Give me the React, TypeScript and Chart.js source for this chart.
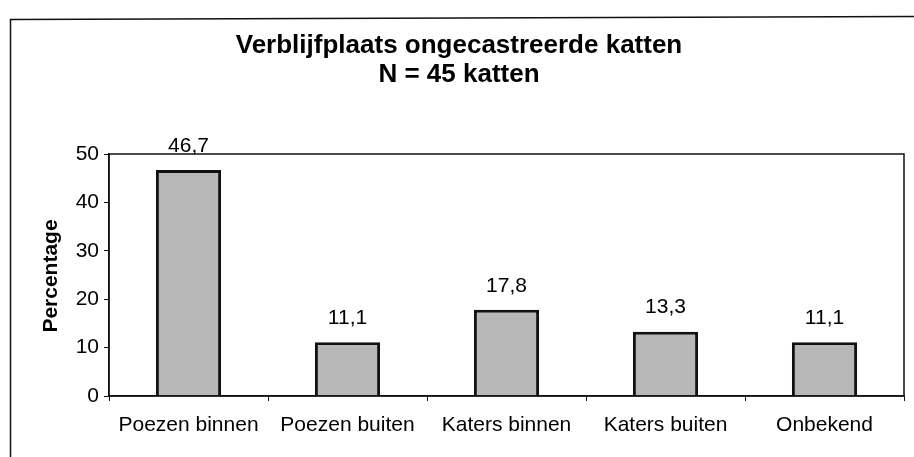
import React, { useEffect, useRef } from "react";
import { Chart, registerables } from "chart.js";

Chart.register(...registerables);

const titleLines = ["Verblijfplaats ongecastreerde katten", "N = 45 katten"];
const categories = ["Poezen binnen", "Poezen buiten", "Katers binnen", "Katers buiten", "Onbekend"];
const percentages = [46.7, 11.1, 17.8, 13.3, 11.1];
const yAxisTitle = "Percentage";
const yMin = 0;
const yMax = 50;
const yStep = 10;

const FONT = "'Liberation Sans', Arial, sans-serif";

const framePlugin = {
  id: "frameAndLabels",
  beforeDraw(chart: any) {
    const ctx = chart.ctx;
    ctx.save();
    ctx.fillStyle = "#ffffff";
    ctx.fillRect(0, 0, chart.width, chart.height);
    ctx.strokeStyle = "#111";
    ctx.lineWidth = 1.5;
    ctx.beginPath();
    ctx.moveTo(10.5, chart.height);
    ctx.lineTo(10.5, 19.5);
    ctx.lineTo(chart.width, 16.5);
    ctx.stroke();
    ctx.restore();
  },
  afterDraw(chart: any) {
    const ctx = chart.ctx;
    const a = chart.chartArea;
    ctx.save();
    // plot box
    ctx.strokeStyle = "#111";
    ctx.lineWidth = 1.5;
    ctx.strokeRect(a.left, a.top, a.right - a.left, a.bottom - a.top);
    // title
    ctx.fillStyle = "#000";
    ctx.textAlign = "center";
    ctx.textBaseline = "middle";
    ctx.font = "bold 26px " + FONT;
    ctx.fillText(titleLines[0], 459, 46);
    ctx.fillText(titleLines[1], 459, 75);
    // y axis title
    ctx.save();
    ctx.translate(51, 276);
    ctx.rotate(-Math.PI / 2);
    ctx.font = "bold 21px " + FONT;
    ctx.fillText(yAxisTitle, 0, 0);
    ctx.restore();
    // value labels
    ctx.font = "21px " + FONT;
    const meta = chart.getDatasetMeta(0);
    meta.data.forEach((bar: any, i: number) => {
      const v = percentages[i];
      ctx.fillText(v.toFixed(1).replace(".", ","), bar.x, bar.y - 24);
    });
    ctx.restore();
  },
};

export default function App() {
  const ref = useRef<HTMLCanvasElement | null>(null);
  useEffect(() => {
    if (!ref.current) return;
    const chart = new Chart(ref.current, {
      type: "bar",
      data: {
        labels: categories,
        datasets: [
          {
            data: percentages,
            backgroundColor: "#b7b7b7",
            borderColor: "#111",
            borderWidth: 3,
            barPercentage: 0.41,
            categoryPercentage: 1,
          },
        ],
      },
      plugins: [framePlugin],
      options: {
        animation: false,
        responsive: false,
        maintainAspectRatio: false,
        layout: { padding: { top: 154, right: 10, bottom: 12, left: 0 } },
        plugins: {
          legend: { display: false },
          title: { display: false },
          tooltip: { enabled: false },
        },
        scales: {
          x: {
            offset: true,
            grid: {
              display: true,
              offset: true,
              drawOnChartArea: false,
              drawTicks: true,
              tickLength: 5,
              color: "#111",
            },
            border: { display: true, color: "#111", width: 1.5 },
            ticks: {
              color: "#000",
              font: { family: FONT, size: 21 },
              padding: 12,
              maxRotation: 0,
              autoSkip: false,
            },
            afterFit(scale: any) {
              scale.height = 49;
            },
          },
          y: {
            min: yMin,
            max: yMax,
            grid: {
              display: true,
              drawOnChartArea: false,
              drawTicks: true,
              tickLength: 5,
              color: "#111",
            },
            border: { display: true, color: "#111", width: 1.5 },
            ticks: {
              stepSize: yStep,
              color: "#000",
              font: { family: FONT, size: 21 },
              padding: 5,
            },
            title: { display: false },
            afterFit(scale: any) {
              scale.width = 109;
            },
          },
        },
      },
    } as any);
    return () => chart.destroy();
  }, []);
  return (
    <div style={{ position: "fixed", left: 0, top: 0, width: 914, height: 457, background: "#fff" }}>
      <canvas ref={ref} width={914} height={457} style={{ width: 914, height: 457, display: "block" }} />
    </div>
  );
}
